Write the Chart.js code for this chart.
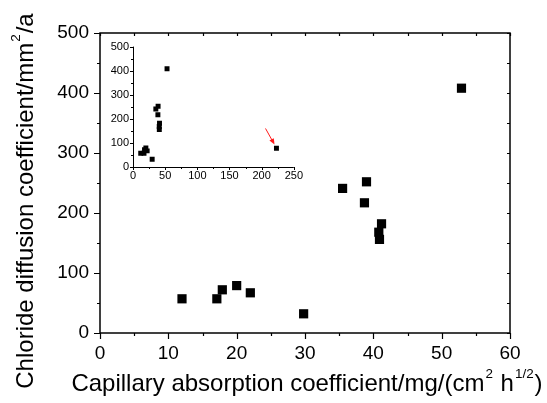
<!DOCTYPE html>
<html><head><meta charset="utf-8">
<script src="https://cdn.jsdelivr.net/npm/chart.js@4/dist/chart.umd.min.js"></script>
<style>
html,body{margin:0;padding:0;background:#fff;}
#wrap{position:relative;width:547px;height:403px;overflow:hidden;}
#main{position:absolute;left:0;top:0;}
#inset{position:absolute;left:100px;top:36px;}
</style></head>
<body><div id="wrap"><canvas id="main" width="547" height="403"></canvas><canvas id="inset" width="205" height="150"></canvas></div>
<script>
// ---- data ----
const capillaryX = [12.0, 17.1, 17.9, 20.0, 22.0, 29.8, 35.5, 39.0, 38.7, 41.2, 40.8, 40.9, 52.9];
const chlorideY  = [57, 57, 72, 79, 67, 32, 241, 252, 217, 182, 168, 156, 408];
const outlierX = [223];
const outlierY = [78];
const mainXTicks = [0, 10, 20, 30, 40, 50, 60];
const mainYTicks = [0, 100, 200, 300, 400, 500];
const insetXTicks = [0, 50, 100, 150, 200, 250];
const insetYTicks = [0, 100, 200, 300, 400, 500];
const arrowFrom = [206, 160];
const arrowTo = [220, 93];
const xTitleParts = [{t:'Capillary absorption coefficient/mg/(cm'},{t:'2',sup:true},{t:' h'},{t:'1/2',sup:true},{t:')'}];
const yTitleParts = [{t:'Chloride diffusion coefficient/mm'},{t:'2',sup:true},{t:'/a'}];

const FONT = 'Liberation Sans, Arial, sans-serif';

function richWidth(ctx, parts, size){
  let w = 0;
  for (const p of parts){
    ctx.font = (p.sup ? size*0.56 : size) + 'px ' + FONT;
    w += ctx.measureText(p.t).width + (p.sup ? 2 : 0);
  }
  return w;
}
function drawRich(ctx, parts, size){
  const w = richWidth(ctx, parts, size);
  let x = -w/2;
  ctx.textAlign = 'left';
  ctx.textBaseline = 'alphabetic';
  ctx.fillStyle = '#000';
  for (const p of parts){
    const s = p.sup ? size*0.56 : size;
    ctx.font = s + 'px ' + FONT;
    ctx.fillText(p.t, x + (p.sup?1:0), p.sup ? -size*0.55 : 0);
    x += ctx.measureText(p.t).width + (p.sup ? 2 : 0);
  }
}

function minorList(min, max, step){ const r=[]; for(let v=min; v<=max+1e-9; v+=step) r.push(v); return r; }

const mainFrame = {
  id: 'mainFrame',
  afterDraw(chart){
    const {ctx, chartArea:a, scales:{x, y}} = chart;
    ctx.save();
    ctx.strokeStyle = '#000';
    ctx.lineWidth = 1.5;
    ctx.strokeRect(a.left, a.top, a.right - a.left, a.bottom - a.top);
    ctx.lineWidth = 1.2;
    ctx.beginPath();
    for (const v of minorList(0, 60, 5)){
      const px = Math.round(x.getPixelForValue(v)) + 0.5;
      const major = mainXTicks.includes(v);
      ctx.moveTo(px, a.bottom); ctx.lineTo(px, a.bottom + (major ? 6 : 3));
      ctx.moveTo(px, a.top); ctx.lineTo(px, a.top + 3);
    }
    for (const v of minorList(0, 500, 50)){
      const py = Math.round(y.getPixelForValue(v)) + 0.5;
      const major = mainYTicks.includes(v);
      ctx.moveTo(a.left, py); ctx.lineTo(a.left - (major ? 6 : 3), py);
      ctx.moveTo(a.right, py); ctx.lineTo(a.right - 3, py);
    }
    ctx.stroke();
    ctx.save();
    ctx.translate((a.left + a.right)/2 + 2, 391);
    drawRich(ctx, xTitleParts, 24);
    ctx.restore();
    ctx.save();
    ctx.translate(33, 201);
    ctx.rotate(-Math.PI/2);
    drawRich(ctx, yTitleParts, 24);
    ctx.restore();
    ctx.restore();
  }
};

const insetFrame = {
  id: 'insetFrame',
  afterDraw(chart){
    const {ctx, chartArea:a, scales:{x, y}} = chart;
    ctx.save();
    ctx.strokeStyle = '#000';
    ctx.lineWidth = 1;
    ctx.beginPath();
    ctx.moveTo(a.left + 0.5, a.top); ctx.lineTo(a.left + 0.5, a.bottom + 0.5); ctx.lineTo(a.right, a.bottom + 0.5);
    for (const v of minorList(0, 250, 25)){
      const px = Math.round(x.getPixelForValue(v)) + 0.5;
      const major = insetXTicks.includes(v);
      ctx.moveTo(px, a.bottom); ctx.lineTo(px, a.bottom + (major ? 3 : 2));
    }
    for (const v of minorList(0, 500, 50)){
      const py = Math.round(y.getPixelForValue(v)) + 0.5;
      const major = insetYTicks.includes(v);
      ctx.moveTo(a.left, py); ctx.lineTo(a.left - (major ? 3 : 2), py);
    }
    ctx.stroke();
    const x0 = x.getPixelForValue(arrowFrom[0]), y0 = y.getPixelForValue(arrowFrom[1]);
    const x1 = x.getPixelForValue(arrowTo[0]), y1 = y.getPixelForValue(arrowTo[1]);
    ctx.strokeStyle = '#ff1a1a'; ctx.fillStyle = '#ff1a1a'; ctx.lineWidth = 1;
    const ang = Math.atan2(y1 - y0, x1 - x0);
    ctx.beginPath(); ctx.moveTo(x0, y0); ctx.lineTo(x1 - 4*Math.cos(ang), y1 - 4*Math.sin(ang)); ctx.stroke();
    ctx.beginPath();
    ctx.moveTo(x1, y1);
    ctx.lineTo(x1 - 6*Math.cos(ang) + 2.5*Math.sin(ang), y1 - 6*Math.sin(ang) - 2.5*Math.cos(ang));
    ctx.lineTo(x1 - 6*Math.cos(ang) - 2.5*Math.sin(ang), y1 - 6*Math.sin(ang) + 2.5*Math.cos(ang));
    ctx.closePath(); ctx.fill();
    ctx.restore();
  }
};

const mainPoints = capillaryX.map((v, i) => ({x: v, y: chlorideY[i]}));
const insetPoints = mainPoints.concat(outlierX.map((v, i) => ({x: v, y: outlierY[i]})));

new Chart(document.getElementById('main'), {
  type: 'scatter',
  data: { datasets: [{ data: mainPoints, pointStyle: 'rect', pointRadius: 6.5, pointHoverRadius: 6.5,
    backgroundColor: '#000', borderColor: '#000', borderWidth: 0 }] },
  options: {
    responsive: false, animation: false, devicePixelRatio: 1,
    layout: { padding: { left: 0, top: 33, right: 37, bottom: 0 } },
    plugins: { legend: { display: false }, tooltip: { enabled: false } },
    scales: {
      x: { type: 'linear', min: 0, max: 60,
        afterBuildTicks: s => { s.ticks = mainXTicks.map(v => ({value: v})); },
        afterFit: s => { s.height = 70; },
        grid: { display: false, drawTicks: false }, border: { display: false },
        ticks: { color: '#000', font: { family: FONT, size: 19 }, padding: 9, maxRotation: 0 } },
      y: { type: 'linear', min: 0, max: 500,
        afterBuildTicks: s => { s.ticks = mainYTicks.map(v => ({value: v})); },
        afterFit: s => { s.width = 100; },
        grid: { display: false, drawTicks: false }, border: { display: false },
        ticks: { color: '#000', font: { family: FONT, size: 19 }, padding: 11 } }
    }
  },
  plugins: [mainFrame]
});

new Chart(document.getElementById('inset'), {
  type: 'scatter',
  data: { datasets: [{ data: insetPoints, pointStyle: 'rect', pointRadius: 3.5, pointHoverRadius: 3.5,
    backgroundColor: '#000', borderColor: '#000', borderWidth: 0 }] },
  options: {
    responsive: false, animation: false, devicePixelRatio: 1,
    layout: { padding: { left: 0, top: 10, right: 9, bottom: 0 } },
    plugins: { legend: { display: false }, tooltip: { enabled: false } },
    scales: {
      x: { type: 'linear', min: 0, max: 250,
        afterBuildTicks: s => { s.ticks = insetXTicks.map(v => ({value: v})); },
        afterFit: s => { s.height = 19; },
        grid: { display: false, drawTicks: false }, border: { display: false },
        ticks: { color: '#000', font: { family: FONT, size: 11 }, padding: 2, maxRotation: 0 } },
      y: { type: 'linear', min: 0, max: 500,
        afterBuildTicks: s => { s.ticks = insetYTicks.map(v => ({value: v})); },
        afterFit: s => { s.width = 33; },
        grid: { display: false, drawTicks: false }, border: { display: false },
        ticks: { color: '#000', font: { family: FONT, size: 11 }, padding: 4 } }
    }
  },
  plugins: [insetFrame]
});
</script>
</body></html>
